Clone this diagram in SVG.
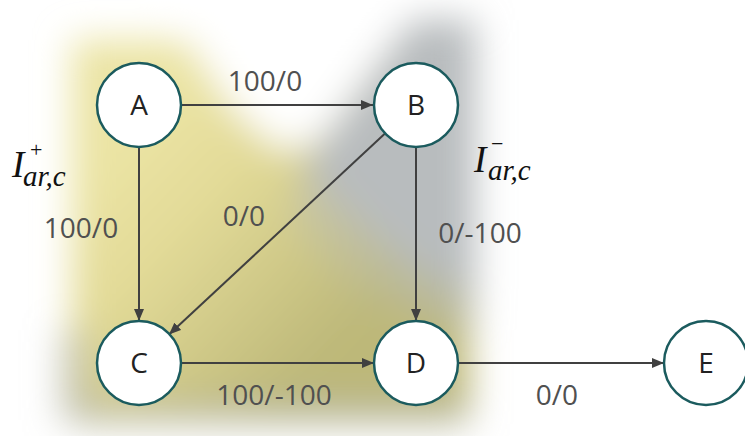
<svg xmlns="http://www.w3.org/2000/svg" width="745" height="436" viewBox="0 0 745 436">
<defs>
  <filter id="blur" x="-20%" y="-20%" width="140%" height="140%">
    <feGaussianBlur stdDeviation="18"/>
  </filter>
  <linearGradient id="olive" gradientUnits="userSpaceOnUse" x1="110" y1="160" x2="320" y2="360">
    <stop offset="0" stop-color="#ebe4a4"/>
    <stop offset="0.35" stop-color="#e2da97"/>
    <stop offset="1" stop-color="#bdb879"/>
  </linearGradient>
  <linearGradient id="grayg" gradientUnits="userSpaceOnUse" x1="330" y1="300" x2="410" y2="200">
    <stop offset="0" stop-color="#b8bbb5" stop-opacity="0"/>
    <stop offset="1" stop-color="#b8bcbe"/>
  </linearGradient>
  <marker id="arr" viewBox="0 0 12 10" refX="12" refY="5" markerWidth="12" markerHeight="10" markerUnits="userSpaceOnUse" orient="auto">
    <path d="M0,0 L12,5 L0,10 Z" fill="#404040"/>
  </marker>
  <style>
    .edge { stroke: #404040; stroke-width: 2; fill: none; marker-end: url(#arr); }
    .node circle { fill: #ffffff; stroke: #1b5b5e; stroke-width: 2.5; }
    .node text { font-family: "Open Sans", "Noto Sans", sans-serif; font-size: 28px; fill: #222222; text-anchor: middle; }
    .lbl { font-family: "Open Sans", "Noto Sans", sans-serif; font-size: 28px; fill: #505050; text-anchor: middle; }
    .math { font-family: "Liberation Serif", "DejaVu Serif", serif; font-style: italic; fill: #111111; }
    .sup { font-style: normal; font-size: 22px; }
    .sub { font-size: 29px; }
  </style>
</defs>

<g id="background" filter="url(#blur)">
  <rect x="72" y="40" width="398" height="382" fill="url(#olive)"/>
  <polygon points="305,165 410,20 475,20 475,290 420,270 360,220" fill="#b8bcbe"/>
  <polygon points="305,165 360,220 420,270 475,290 475,330 420,320 340,290 290,220" fill="url(#grayg)"/>
  <polygon points="175,20 410,20 320,140 280,150 235,110" fill="#ffffff"/>
  <rect x="72" y="402" width="398" height="22" fill="#b5b6a8" opacity="0.7"/>
  <rect x="60" y="330" width="30" height="90" fill="#b0b2a6" opacity="0.6"/>
</g>

<g id="connectors">
  <line class="edge" x1="181" y1="105" x2="373" y2="105"/>
  <line class="edge" x1="139" y1="147" x2="139" y2="321"/>
  <line class="edge" x1="416" y1="147" x2="416" y2="321"/>
  <line class="edge" x1="385" y1="133.5" x2="169" y2="334.5"/>
  <line class="edge" x1="181" y1="363" x2="374" y2="363"/>
  <line class="edge" x1="458" y1="363" x2="664" y2="363"/>
</g>

<g id="edge-labels">
  <text class="lbl" x="265" y="91">100/0</text>
  <text class="lbl" x="81" y="238">100/0</text>
  <text class="lbl" x="244" y="226">0/0</text>
  <text class="lbl" x="480" y="243">0/-100</text>
  <text class="lbl" x="274" y="405">100/-100</text>
  <text class="lbl" x="557" y="405">0/0</text>
</g>

<g id="node-A" class="node"><circle cx="139" cy="105" r="42"/><text x="139" y="115">A</text></g>
<g id="node-B" class="node"><circle cx="416" cy="105" r="42"/><text x="416" y="115">B</text></g>
<g id="node-C" class="node"><circle cx="139" cy="363" r="42"/><text x="139" y="373">C</text></g>
<g id="node-D" class="node"><circle cx="416" cy="363" r="42"/><text x="416" y="373">D</text></g>
<g id="node-E" class="node"><circle cx="706" cy="363" r="42"/><text x="706" y="373">E</text></g>

<g id="label-plus">
  <text class="math" font-size="37" x="12" y="177">I<tspan class="sup" x="30" y="157">+</tspan><tspan class="sub" x="23" y="186">ar,c</tspan></text>
</g>
<g id="label-minus">
  <text class="math" font-size="37" x="474" y="172">I<tspan class="sup" x="491" y="151">−</tspan><tspan class="sub" x="488" y="180">ar,c</tspan></text>
</g>
</svg>
